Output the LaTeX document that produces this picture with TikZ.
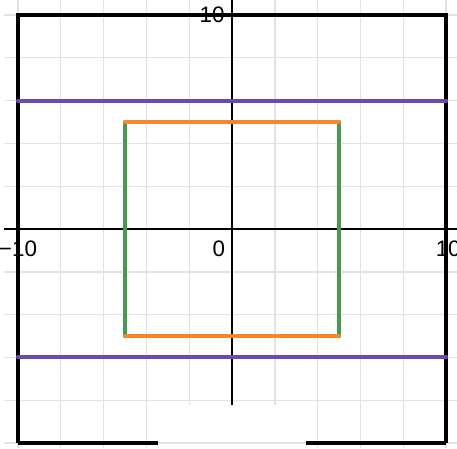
\documentclass[tikz,border=0pt]{standalone}
\usepackage{fontspec}
\setmainfont{Liberation Sans}

\definecolor{gridgray}{RGB}{226,226,226}
\definecolor{plotpurple}{RGB}{106,76,176}
\definecolor{plotorange}{RGB}{247,134,46}
\definecolor{plotgreen}{RGB}{72,152,84}

\tikzset{every picture/.style={line width=0.75pt}}

\begin{document}
\begin{tikzpicture}[x=16.05pt,y=16.05pt,
	gridline/.style={draw=gridgray,line width=1pt},
	axisline/.style={draw=black,line width=1.4pt},
	frameline/.style={draw=black,line width=3pt},
	plotline/.style={line width=3pt,line cap=round},
	ticklabel/.style={font=\fontsize{16.8}{18}\selectfont,inner sep=0pt}]
	\useasboundingbox (-10.84,-10.23) rectangle (10.51,10.70);

	%Grid Lines
	\foreach \k in {-10,-8,...,10} {
		\pgfmathsetmacro{\ylow}{abs(\k)<3 ? -8.22 : -10.23}
		\draw[gridline] (\k,\ylow) -- (\k,10.70);
		\draw[gridline] (-10.65,\k) -- (10.51,\k);
	}

	%Axes
	\draw[axisline] (-10.65,0) -- (10.51,0);
	\draw[axisline] (0,-8.22) -- (0,10.70);

	% Text Node
	\node[ticklabel,anchor=east] (ytop) at (-0.33,10) {10};
	% Text Node
	\node[ticklabel] (xzero) at (-0.61,-0.92) {0};
	% Text Node
	\node[ticklabel] (xleft) at (-10,-0.92) {−10};
	% Text Node
	\node[ticklabel] (xright) at (10.1,-0.92) {10};

	%Frame
	\draw[frameline] (-10,-10) -- (-10,10) -- (10,10) -- (10,-10);
	\draw[frameline] (-10,-10) -- (-3.46,-10);
	\draw[frameline] (3.46,-10) -- (10,-10);

	%Straight Lines
	\draw[plotline,plotpurple] (-10,6) -- (10,6);
	\draw[plotline,plotpurple] (-10,-6) -- (10,-6);
	\draw[plotline,plotgreen] (-5,-5) -- (-5,5);
	\draw[plotline,plotgreen] (5,-5) -- (5,5);
	\draw[plotline,plotorange] (-5,5) -- (5,5);
	\draw[plotline,plotorange] (-5,-5) -- (5,-5);

\end{tikzpicture}
\end{document}
